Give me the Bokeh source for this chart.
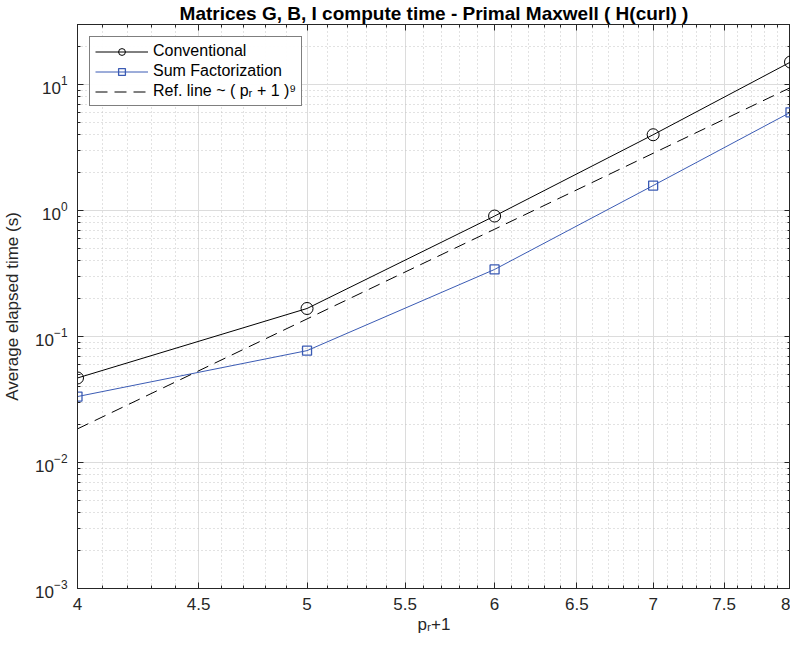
import numpy as np
from bokeh.plotting import figure
from bokeh.models import (LogAxis, FixedTicker, LogTicker, Range1d, Legend, LegendItem,
                          CustomJSTickFormatter)
from bokeh.embed import file_html
from bokeh.resources import INLINE

# ---- data ----
x_vals = [4, 5, 6, 7, 8]
conventional = [0.0469, 0.167, 0.905, 4.0, 15.1]
sum_factorization = [0.0334, 0.0773, 0.341, 1.58, 6.03]
ref_line = [0.0185, 0.138, 0.711, 2.85, 9.47]
x_ticks = [4, 4.5, 5, 5.5, 6, 6.5, 7, 7.5, 8]
x_minor = [round(4 + 0.1 * i, 1) for i in range(41)]

FONT = "Liberation Sans"
BLUE = "#3B5BB4"
AXC = "#262626"

p = figure(width=790, height=636, x_axis_type="log", y_axis_type="log",
           x_range=Range1d(4, 8), y_range=Range1d(1e-3, 30),
           output_backend="svg", toolbar_location=None,
           min_border_left=0, min_border_right=0, min_border_bottom=0,
           min_border_top=0)
p.outline_line_color = AXC
p.outline_line_width = 1

p.title.text = "Matrices G, B, I compute time - Primal Maxwell ( H(curl) )"
p.title.align = "center"
p.title.text_font = FONT
p.title.text_font_size = "19px"
p.title.text_font_style = "bold"
p.title.text_color = "black"
p.title.standoff = 1
p.title.offset = 0

def style_axis(ax, labels=True):
    ax.axis_line_color = AXC
    ax.major_tick_in = 6
    ax.major_tick_out = 0
    ax.minor_tick_in = 3
    ax.minor_tick_out = 0
    ax.major_tick_line_color = AXC
    ax.minor_tick_line_color = AXC
    ax.major_label_text_font = FONT
    ax.major_label_text_font_size = "17px"
    ax.major_label_text_color = AXC
    ax.axis_label_text_font = FONT
    ax.axis_label_text_font_size = "17px"
    ax.axis_label_text_font_style = "normal"
    ax.axis_label_text_color = AXC
    if not labels:
        ax.formatter = CustomJSTickFormatter(code="return ''")
        ax.major_label_text_font_size = "1px"
        ax.major_label_standoff = 0

xt = FixedTicker(ticks=x_ticks, minor_ticks=x_minor)
p.xaxis.ticker = xt
p.xaxis.axis_label = "pᵣ+1"
style_axis(p.xaxis[0])
p.yaxis.ticker = LogTicker(num_minor_ticks=10)
p.yaxis.axis_label = "Average elapsed time (s)"
style_axis(p.yaxis[0])
p.xaxis.major_label_standoff = 9
p.xaxis.axis_label_standoff = 2
p.yaxis.major_label_standoff = 10
p.yaxis.axis_label_standoff = 10

top = LogAxis(ticker=FixedTicker(ticks=x_ticks, minor_ticks=x_minor))
style_axis(top, labels=False)
p.add_layout(top, "above")
right = LogAxis(ticker=LogTicker(num_minor_ticks=10))
style_axis(right, labels=False)
p.add_layout(right, "right")

p.xgrid.ticker = xt
p.grid.grid_line_color = "#DCDCDC"
p.grid.grid_line_width = 1
p.grid.minor_grid_line_color = "#C4C4C4"
p.grid.minor_grid_line_dash = "1 3"
p.grid.minor_grid_line_width = 1

r_conv = p.line(x_vals, conventional, line_color="black", line_width=1)
r_conv_m = p.scatter(x_vals, conventional, marker="circle", size=12,
                     fill_color=None, line_color="black", line_width=1)
r_sf = p.line(x_vals, sum_factorization, line_color=BLUE, line_width=1)
r_sf_m = p.scatter(x_vals, sum_factorization, marker="square", size=9,
                   fill_color=None, line_color=BLUE, line_width=1.3)
r_ref = p.line(x_vals, ref_line, line_color="black", line_width=1, line_dash="12 7")

legend = Legend(items=[
    LegendItem(label="Conventional", renderers=[r_conv, r_conv_m]),
    LegendItem(label="Sum Factorization", renderers=[r_sf, r_sf_m]),
    LegendItem(label="Ref. line ~ ( pᵣ + 1 )⁹", renderers=[r_ref]),
], location="top_left")
legend.label_text_font = FONT
legend.label_text_font_size = "16px"
legend.label_text_color = "black"
legend.border_line_color = "black"
legend.border_line_width = 1
legend.glyph_width = 53
legend.glyph_height = 17
legend.label_height = 17
legend.spacing = 2
legend.padding = 5
legend.margin = 12
legend.label_standoff = 5
p.add_layout(legend)

open("out.html", "w").write(file_html(p, INLINE))
